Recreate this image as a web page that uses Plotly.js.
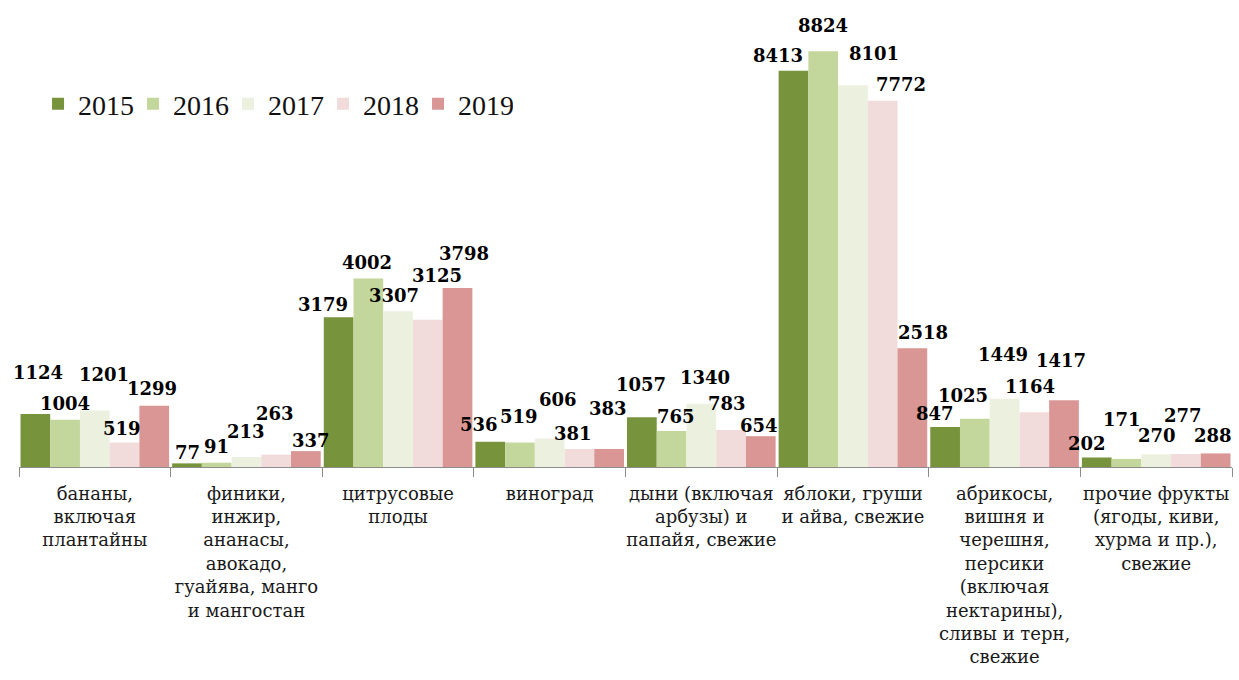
<!DOCTYPE html>
<html>
<head>
<meta charset="utf-8">
<script src="https://cdn.plot.ly/plotly-3.0.1.min.js"></script>
<style>html,body{margin:0;padding:0;background:#fff}#chart{width:1239px;height:680px}</style>
</head>
<body>
<div id="chart"></div>
<script>
// ---- data ----
const categories = [
  "бананы,<br>включая<br>плантайны",
  "финики,<br>инжир,<br>ананасы,<br>авокадо,<br>гуайява, манго<br>и мангостан",
  "цитрусовые<br>плоды",
  "виноград",
  "дыни (включая<br>арбузы) и<br>папайя, свежие",
  "яблоки, груши<br>и айва, свежие",
  "абрикосы,<br>вишня и<br>черешня,<br>персики<br>(включая<br>нектарины),<br>сливы и терн,<br>свежие",
  "прочие фрукты<br>(ягоды, киви,<br>хурма и пр.),<br>свежие"
];
const years = ["2015", "2016", "2017", "2018", "2019"];
const v2015 = [1124, 77, 3179, 536, 1057, 8413, 847, 202];
const v2016 = [1004, 91, 4002, 519, 765, 8824, 1025, 171];
const v2017 = [1201, 213, 3307, 606, 1340, 8101, 1449, 270];
const v2018 = [519, 263, 3125, 381, 783, 7772, 1164, 277];
const v2019 = [1299, 337, 3798, 383, 654, 2518, 1417, 288];
const series = [v2015, v2016, v2017, v2018, v2019];

// ---- styling ----
const colors = ["#77933C", "#C3D69B", "#EBF1DE", "#F2DCDB", "#D99694"];
// label placement offsets in pixels (style only): [category][year]
const labelDx = [
  [3, 0, 9, -3, -2], [0, 0, 0, -1, 5], [-16, -1, -4, 9, 7], [-11, -1, 8, -6, -1],
  [-1, 4, 4, -4, -2], [-16, 0, 21, 18, 11], [-10, -12, -2, -4, -3], [-10, -4, 1, -3, -3]
];
const labelDy = [
  [42, 16, 36, 14, 17], [11, 16, 25, 41, 11], [13, 16, 16, 44, 35], [17, 26, 39, 16, 40],
  [33, 14, 26, 27, 11], [15, 26, 32, 16, 16], [14, 23, 44, 26, 40], [14, 39, 19, 38, 18]
];
const barPx = 29.7;

const traces = series.map((vals, i) => ({
  type: "bar",
  name: years[i],
  x: categories,
  y: vals,
  marker: {color: colors[i], line: {width: 0}},
  hoverinfo: "skip"
}));

const annotations = [];
series.forEach((vals, i) => {
  vals.forEach((v, c) => {
    annotations.push({
      x: categories[c], y: v, xref: "x", yref: "y",
      text: "<b>" + v + "</b>", showarrow: false,
      xanchor: "center", yanchor: "middle",
      xshift: (i - 2) * barPx + labelDx[c][i],
      yshift: labelDy[c][i],
      font: {family: "DejaVu Serif", size: 18, color: "#000"}
    });
  });
});

const layout = {
  width: 1239, height: 680,
  margin: {l: 19, r: 7, t: 43, b: 213, autoexpand: false},
  paper_bgcolor: "#fff", plot_bgcolor: "#fff",
  barmode: "group", bargap: 0.02, bargroupgap: 0,
  showlegend: true,
  legend: {
    orientation: "h",
    x: 0.0157, y: 0.856, xanchor: "left", yanchor: "middle",
    entrywidth: 50, entrywidthmode: "pixels",
    font: {family: "Liberation Serif", size: 28, color: "#111"},
    bgcolor: "rgba(0,0,0,0)", traceorder: "normal"
  },
  xaxis: {
    type: "category", range: [-0.5, 7.5], autorange: false,
    showgrid: false, zeroline: false,
    showline: true, linecolor: "#8c8c8c", linewidth: 1,
    ticks: "outside", tickson: "boundaries", ticklen: 9, tickcolor: "#8c8c8c",
    tickangle: 0, automargin: false, ticklabelstandoff: 10,
    tickfont: {family: "DejaVu Serif", size: 18, color: "#1a1a1a"},
    fixedrange: true
  },
  yaxis: {range: [0, 9000], autorange: false, visible: false, showgrid: false, zeroline: false, fixedrange: true},
  annotations: annotations
};

Plotly.newPlot("chart", traces, layout, {displayModeBar: false, staticPlot: true});
</script>
</body>
</html>
